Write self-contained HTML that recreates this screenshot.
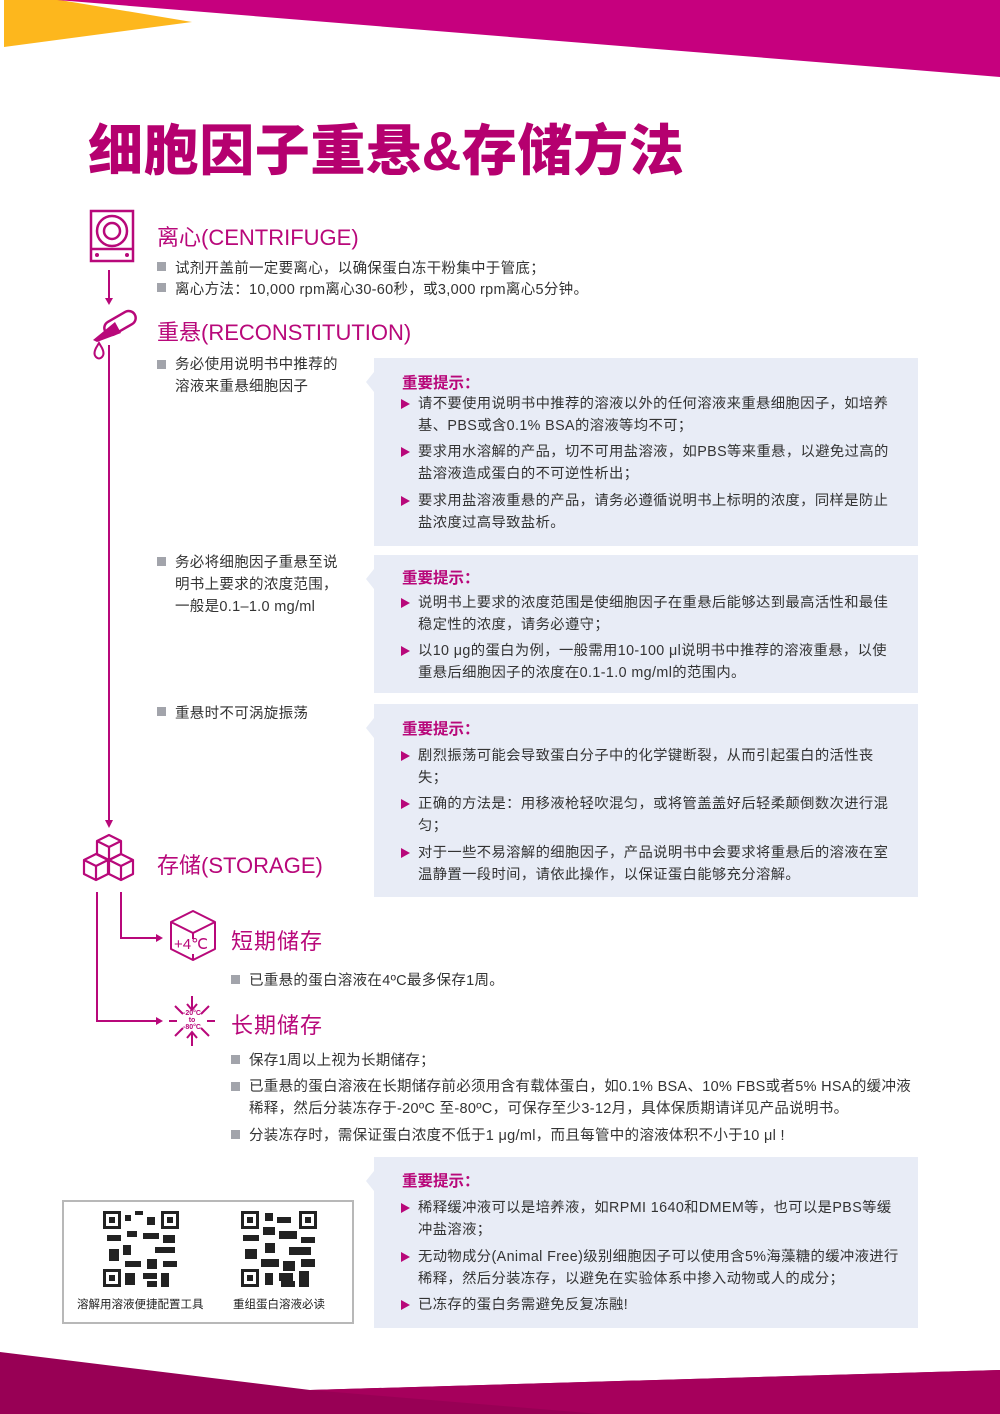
<!DOCTYPE html>
<html><head><meta charset="utf-8">
<style>
*{margin:0;padding:0;box-sizing:border-box}
body{width:1000px;height:1414px;position:relative;background:#fff;font-family:"Liberation Sans","Noto Sans CJK SC",sans-serif;color:#333;overflow:hidden}
.a{position:absolute;white-space:nowrap}
.h{color:#b8087a;font-size:22px}
.t{font-size:14.5px;letter-spacing:0.3px}
.bul{position:absolute;width:9px;height:9px;background:#a2a4ab}
.box{position:absolute;left:374px;width:544px;background:#e8ecf6}
.box .ti{position:absolute;left:28px;color:#b8087a;font-size:15.5px;font-weight:bold}
.box p{position:absolute;left:44px;font-size:14.3px;line-height:22px;width:496px;letter-spacing:0.4px;white-space:nowrap}
.box p:before{content:"";position:absolute;left:-17px;top:6px;border-left:9px solid #b8087a;border-top:5px solid transparent;border-bottom:5px solid transparent}
.notch{position:absolute;left:-8px;width:0;height:0;border-right:8px solid #e8ecf6;border-top:10px solid transparent;border-bottom:10px solid transparent}
</style></head><body>
<svg class="a" style="left:0;top:0" width="1000" height="1414">
<polygon points="4,0 60,0 192,22 4,47" fill="#fdb71d"/>
<polygon points="57,0 1000,0 1000,77" fill="#c6007e"/>
<polygon points="0,1352 310,1390 1000,1370 1000,1414 0,1414" fill="#980055"/>
<polygon points="310,1390 1000,1370 1000,1414 600,1414" fill="#a6005c"/>
<g fill="none" stroke="#b8087a" stroke-width="2.5">
<rect x="91" y="211" width="42" height="50"/>
<line x1="91" y1="249" x2="133" y2="249"/>
<circle cx="112" cy="231" r="15"/><circle cx="112" cy="231" r="8"/>
</g>
<g fill="#b8087a"><circle cx="97" cy="255" r="2"/><circle cx="127" cy="255" r="2"/></g>
<g stroke="#b8087a" stroke-width="2" fill="none">
<line x1="109" y1="270" x2="109" y2="300"/>
<line x1="109" y1="345" x2="109" y2="822"/>
<polyline points="121,892 121,938 158,938"/>
<polyline points="97,892 97,1021 158,1021"/>
</g>
<g fill="#b8087a">
<polygon points="105,298 113,298 109,305"/>
<polygon points="105,820 113,820 109,828"/>
<polygon points="156,934 156,942 163,938"/>
<polygon points="156,1017 156,1025 163,1021"/>
</g>
<g stroke="#b8087a" stroke-width="2.5" fill="none">
<rect x="103" y="316" width="34" height="14" rx="7" transform="rotate(-30 120 323)"/>
<path d="M96,348 q-3,6 0,9 q3,3 6,0 q3,-3 0,-9 l-3,-5z" stroke-width="2"/>
</g>
<path d="M93,340 L115,322 L121,333 L97,342z" fill="#b8087a"/>
<g stroke="#b8087a" stroke-width="2.2" fill="none" stroke-linejoin="round">
<path d="M97,841 l12,-6 12,6 v13 l-12,6 -12,-6z M97,841 l12,6 12,-6 M109,847 v13"/>
<path d="M84,860 l12,-6 12,6 v14 l-12,6 -12,-6z M84,860 l12,6 12,-6 M96,866 v14"/>
<path d="M109,860 l12,-6 12,6 v14 l-12,6 -12,-6z M109,860 l12,6 12,-6 M121,866 v14"/>
<path d="M171,922 l22,-11 22,11 v27 l-22,11 -22,-11z M171,922 l22,11 22,-11 M193,933 v6 M193,954 v6" stroke-width="2"/>
</g>
<text x="174" y="949" font-size="15" fill="#b8087a" font-family="Liberation Sans">+4℃</text>
<g stroke="#b8087a" stroke-width="2" fill="none">
<path d="M192,996 v14 M187,1004 l5,6 5,-6 M192,1046 v-14 M187,1038 l5,-6 5,6 M169,1021 h8 M215,1021 h-8 M175,1006 l8,8 M209,1006 l-8,8 M175,1036 l8,-8 M209,1036 l-8,-8"/>
</g>
<text x="192" y="1015" font-size="7" fill="#b8087a" text-anchor="middle" font-weight="bold">-20°C</text>
<text x="192" y="1022" font-size="7" fill="#b8087a" text-anchor="middle" font-weight="bold">to</text>
<text x="192" y="1029" font-size="7" fill="#b8087a" text-anchor="middle" font-weight="bold">-80°C</text>
</svg>

<div class="a" style="left:88px;top:106px;font-size:55px;font-weight:900;color:#b5006f;letter-spacing:0.6px">细胞因子重悬&amp;存储方法</div>

<div class="a h" style="left:157px;top:220px">离心(CENTRIFUGE)</div>
<div class="bul" style="left:157px;top:262px"></div><div class="a t" style="left:175px;top:257px">试剂开盖前一定要离心，以确保蛋白冻干粉集中于管底；</div>
<div class="bul" style="left:157px;top:283px"></div><div class="a t" style="left:175px;top:278px">离心方法：10,000 rpm离心30-60秒，或3,000 rpm离心5分钟。</div>

<div class="a h" style="left:157px;top:315px">重悬(RECONSTITUTION)</div>
<div class="bul" style="left:157px;top:360px"></div><div class="a t" style="left:175px;top:354px;line-height:22px">务必使用说明书中推荐的<br>溶液来重悬细胞因子</div>
<div class="bul" style="left:157px;top:557px"></div><div class="a t" style="left:175px;top:552px;line-height:22px">务必将细胞因子重悬至说<br>明书上要求的浓度范围，<br>一般是0.1–1.0 mg/ml</div>
<div class="bul" style="left:157px;top:707px"></div><div class="a t" style="left:175px;top:702px">重悬时不可涡旋振荡</div>

<div class="box" style="top:358px;height:188px"><div class="notch" style="top:14px"></div>
<div class="ti" style="top:13px">重要提示：</div>
<p style="top:35px">请不要使用说明书中推荐的溶液以外的任何溶液来重悬细胞因子，如培养<br>基、PBS或含0.1% BSA的溶液等均不可；</p>
<p style="top:83px">要求用水溶解的产品，切不可用盐溶液，如PBS等来重悬，以避免过高的<br>盐溶液造成蛋白的不可逆性析出；</p>
<p style="top:132px">要求用盐溶液重悬的产品，请务必遵循说明书上标明的浓度，同样是防止<br>盐浓度过高导致盐析。</p>
</div>
<div class="box" style="top:555px;height:138px"><div class="notch" style="top:14px"></div>
<div class="ti" style="top:11px">重要提示：</div>
<p style="top:37px">说明书上要求的浓度范围是使细胞因子在重悬后能够达到最高活性和最佳<br>稳定性的浓度，请务必遵守；</p>
<p style="top:85px">以10 μg的蛋白为例，一般需用10-100 μl说明书中推荐的溶液重悬，以使<br>重悬后细胞因子的浓度在0.1-1.0 mg/ml的范围内。</p>
</div>
<div class="box" style="top:704px;height:193px"><div class="notch" style="top:14px"></div>
<div class="ti" style="top:13px">重要提示：</div>
<p style="top:41px">剧烈振荡可能会导致蛋白分子中的化学键断裂，从而引起蛋白的活性丧<br>失；</p>
<p style="top:89px">正确的方法是：用移液枪轻吹混匀，或将管盖盖好后轻柔颠倒数次进行混<br>匀；</p>
<p style="top:138px">对于一些不易溶解的细胞因子，产品说明书中会要求将重悬后的溶液在室<br>温静置一段时间，请依此操作，以保证蛋白能够充分溶解。</p>
</div>

<div class="a h" style="left:157px;top:848px">存储(STORAGE)</div>
<div class="a h" style="left:231px;top:924px;letter-spacing:1px">短期储存</div>
<div class="bul" style="left:231px;top:975px"></div><div class="a t" style="left:249px;top:969px">已重悬的蛋白溶液在4ºC最多保存1周。</div>
<div class="a h" style="left:231px;top:1008px;letter-spacing:1px">长期储存</div>
<div class="bul" style="left:231px;top:1055px"></div><div class="a t" style="left:249px;top:1049px">保存1周以上视为长期储存；</div>
<div class="bul" style="left:231px;top:1082px"></div><div class="a t" style="left:249px;top:1076px;line-height:22px">已重悬的蛋白溶液在长期储存前必须用含有载体蛋白，如0.1% BSA、10% FBS或者5% HSA的缓冲液<br>稀释，然后分装冻存于-20ºC 至-80ºC，可保存至少3-12月，具体保质期请详见产品说明书。</div>
<div class="bul" style="left:231px;top:1130px"></div><div class="a t" style="left:249px;top:1124px">分装冻存时，需保证蛋白浓度不低于1 μg/ml，而且每管中的溶液体积不小于10 μl !</div>

<div class="box" style="top:1157px;height:171px"><div class="notch" style="top:14px"></div>
<div class="ti" style="top:12px">重要提示：</div>
<p style="top:40px">稀释缓冲液可以是培养液，如RPMI 1640和DMEM等，也可以是PBS等缓<br>冲盐溶液；</p>
<p style="top:89px">无动物成分(Animal Free)级别细胞因子可以使用含5%海藻糖的缓冲液进行<br>稀释，然后分装冻存，以避免在实验体系中掺入动物或人的成分；</p>
<p style="top:137px">已冻存的蛋白务需避免反复冻融!</p>
</div>

<div class="a" style="left:62px;top:1200px;width:292px;height:124px;border:2px solid #b8b8b8;background:#fff"></div>
<svg class="a" style="left:103px;top:1211px" width="76" height="76"><rect width="76" height="76" fill="#fff"/>
<g fill="#222"><rect x="0" y="0" width="18" height="18"/><rect x="58" y="0" width="18" height="18"/><rect x="0" y="58" width="18" height="18"/>
<rect x="22" y="4" width="6" height="6"/><rect x="32" y="0" width="8" height="4"/><rect x="44" y="6" width="8" height="8"/><rect x="24" y="20" width="10" height="6"/><rect x="4" y="24" width="14" height="6"/><rect x="40" y="22" width="16" height="6"/><rect x="60" y="24" width="12" height="8"/><rect x="20" y="34" width="8" height="10"/><rect x="52" y="36" width="20" height="6"/><rect x="6" y="38" width="10" height="12"/><rect x="22" y="50" width="16" height="6"/><rect x="44" y="48" width="10" height="10"/><rect x="60" y="50" width="14" height="6"/><rect x="22" y="62" width="10" height="12"/><rect x="40" y="62" width="14" height="6"/><rect x="58" y="62" width="8" height="14"/><rect x="44" y="70" width="10" height="6"/></g>
<g fill="#fff"><rect x="3" y="3" width="12" height="12"/><rect x="61" y="3" width="12" height="12"/><rect x="3" y="61" width="12" height="12"/></g>
<g fill="#222"><rect x="6" y="6" width="6" height="6"/><rect x="64" y="6" width="6" height="6"/><rect x="6" y="64" width="6" height="6"/></g></svg>
<svg class="a" style="left:241px;top:1211px" width="76" height="76"><rect width="76" height="76" fill="#fff"/>
<g fill="#222"><rect x="0" y="0" width="18" height="18"/><rect x="58" y="0" width="18" height="18"/><rect x="0" y="58" width="18" height="18"/>
<rect x="24" y="2" width="8" height="8"/><rect x="36" y="6" width="14" height="6"/><rect x="22" y="16" width="12" height="8"/><rect x="2" y="24" width="16" height="6"/><rect x="38" y="20" width="18" height="8"/><rect x="60" y="26" width="14" height="6"/><rect x="24" y="32" width="10" height="10"/><rect x="48" y="36" width="22" height="8"/><rect x="4" y="38" width="12" height="10"/><rect x="20" y="48" width="18" height="8"/><rect x="42" y="50" width="12" height="10"/><rect x="60" y="48" width="14" height="8"/><rect x="24" y="62" width="8" height="12"/><rect x="38" y="62" width="14" height="8"/><rect x="58" y="60" width="10" height="16"/><rect x="40" y="70" width="14" height="6"/></g>
<g fill="#fff"><rect x="3" y="3" width="12" height="12"/><rect x="61" y="3" width="12" height="12"/><rect x="3" y="61" width="12" height="12"/></g>
<g fill="#222"><rect x="6" y="6" width="6" height="6"/><rect x="64" y="6" width="6" height="6"/><rect x="6" y="64" width="6" height="6"/></g></svg>
<div class="a" style="left:77px;top:1296px;font-size:11.5px;color:#222">溶解用溶液便捷配置工具</div>
<div class="a" style="left:233px;top:1296px;font-size:11.5px;color:#222">重组蛋白溶液必读</div>
</body></html>
